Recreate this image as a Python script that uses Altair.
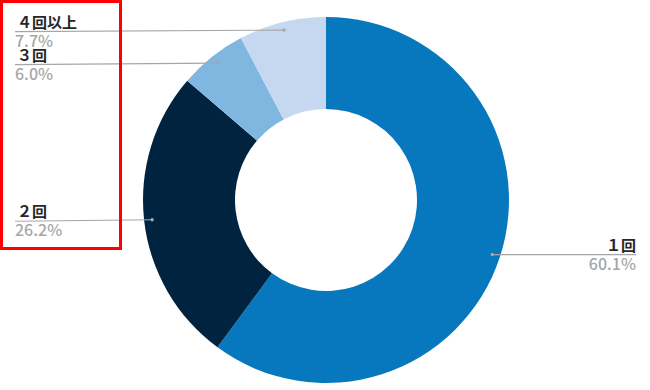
import altair as alt
import pandas as pd

categories = ["１回", "２回", "３回", "４回以上"]
values = [60.1, 26.2, 6.0, 7.7]
pct_labels = ["60.1%", "26.2%", "6.0%", "7.7%"]
colors = ["#0778BE", "#00233F", "#80B7E0", "#C5D8F0"]

df = pd.DataFrame({
    "idx": list(range(len(categories))),
    "cat": categories,
    "value": values,
    "pct": pct_labels,
})

CX, CY, R_IN, R_OUT, R_DOT = 326, 200, 91, 183, 175
FONT = "Noto Sans CJK JP"

base = alt.Chart(df)

arc = base.mark_arc(innerRadius=R_IN, outerRadius=R_OUT).encode(
    theta=alt.Theta("value:Q", stack=True),
    order=alt.Order("idx:Q"),
    color=alt.Color("cat:N", scale=alt.Scale(domain=categories, range=colors), legend=None),
    x=alt.value(CX),
    y=alt.value(CY),
)

pos = base.transform_window(
    cum="sum(value)", sort=[alt.SortField("idx")], frame=[None, 0]
).transform_calculate(
    mid="(datum.cum - datum.value/2)/100*2*PI",
).transform_calculate(
    dx=f"{CX} + {R_DOT}*sin(datum.mid)",
    dy=f"{CY} - {R_DOT}*cos(datum.mid)",
    right="sin(datum.mid) > 0",
).transform_calculate(
    lx="datum.right ? 636 : 15",
    ly="datum.right ? datum.dy : datum.dy + 1.5",
)

rules = pos.mark_rule(color="#A6A6A6", strokeWidth=1.2).encode(
    x=alt.X("dx:Q", scale=None),
    y=alt.Y("dy:Q", scale=None),
    x2="lx:Q",
    y2="ly:Q",
)
dots = pos.mark_circle(color="#A6A6A6", size=12, opacity=1).encode(
    x=alt.X("dx:Q", scale=None),
    y=alt.Y("dy:Q", scale=None),
)

def labels(side_right):
    f = pos.transform_filter("datum.right" if side_right else "!datum.right")
    align = "right" if side_right else "left"
    name = f.mark_text(align=align, baseline="alphabetic", dy=-4, dx=0 if side_right else 2,
                       font=FONT, fontSize=15, fontWeight="bold", color="#262626").encode(
        x=alt.X("lx:Q", scale=None), y=alt.Y("ly:Q", scale=None), text="cat:N")
    pct = f.mark_text(align=align, baseline="top", dy=2,
                      font=FONT, fontSize=16, fontWeight=500, color="#A6A6A6").encode(
        x=alt.X("lx:Q", scale=None), y=alt.Y("ly:Q", scale=None), text="pct:N")
    return name + pct

box = alt.Chart(df).mark_rect(fill=None, stroke="#FF0000", strokeWidth=3).encode(
    x=alt.value(1.5), x2=alt.value(120.5), y=alt.value(1.5), y2=alt.value(248.5)
).transform_filter("datum.idx == 0")

chart = alt.layer(arc, rules, dots, labels(False), labels(True), box).properties(
    width=650, height=390, autosize=alt.AutoSizeParams(type="none"), padding=0
).configure_view(stroke=None)

chart.save("out.html", embed_options={"renderer": "svg", "actions": False})
